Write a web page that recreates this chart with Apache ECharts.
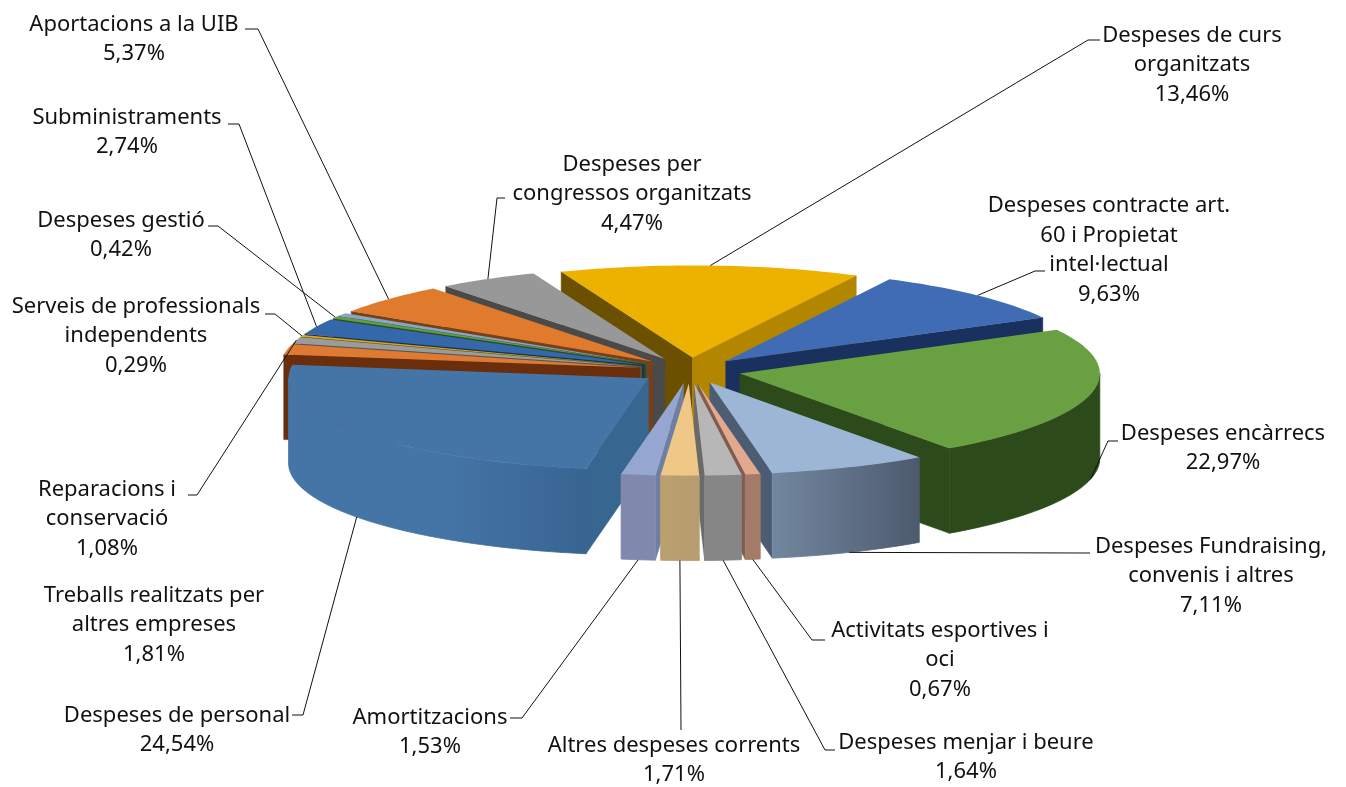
<!DOCTYPE html>
<html><head><meta charset="utf-8">
<style>html,body{margin:0;padding:0;background:#fff}#c{width:1346px;height:787px}</style>
<script src="https://cdn.jsdelivr.net/npm/echarts@6/dist/echarts.min.js"></script>
</head><body><div id="c"></div>
<script>
// ---- data (clockwise from the top slice) ----
const categories = ['Despeses de curs\norganitzats','Despeses contracte art.\n60 i Propietat\nintel·lectual','Despeses encàrrecs','Despeses Fundraising,\nconvenis i altres','Activitats esportives i\noci','Despeses menjar i beure','Altres despeses corrents','Amortitzacions','Despeses de personal','Treballs realitzats per\naltres empreses','Reparacions i\nconservació','Serveis de professionals\nindependents','Subministraments','Despeses gestió','','Aportacions a la UIB','Despeses per\ncongressos organitzats'];
const values = [13.46,9.63,22.97,7.11,0.67,1.64,1.71,1.53,24.54,1.81,1.08,0.29,2.74,0.42,0.56,5.37,4.47];
// ---- styles ----
const topColors  = ['#edb100','#3f6cb5','#69a142','#9db6d6','#e3a98f','#b7b7b7','#efc888','#95a7d0','#4575a7','#de7a32','#9b9b9b','#d9a91c','#3567ab','#5fa03f','#86a7c7','#e07b2e','#989898'];
const startWalls = ['#6b5000','#1a3160','#2d4a1b','#4b5c73','#7f5c4d','#6a6a6a','#8a7650','#6f7ea3','#376690','#6b2e0c','#555555','#6b5500','#173056','#2d4a1b','#3f5a78','#7a3f14','#4a4a4a'];
const endWalls   = ['#b38600','#1a3160','#2d4a1b','#4b5c73','#7f5c4d','#6a6a6a','#8a7650','#6f7ea3','#376690','#6b2e0c','#555555','#6b5500','#173056','#2d4a1b','#3f5a78','#7a3f14','#4a4a4a'];
const outerLeft  = ['#b38600','#1a3160','#2d4a1b','#72879f','#a47a68','#868686','#bba06f','#8089ad','#4575a7','#7a4726','#555555','#6b5500','#173056','#2d4a1b','#3f5a78','#7a3f14','#4a4a4a'];
const outerRight = ['#b38600','#1a3160','#2d4a1b','#4d5a6e','#a47a68','#868686','#b59d70','#8089ad','#386491','#7a4726','#555555','#6b5500','#173056','#2d4a1b','#3f5a78','#7a3f14','#4a4a4a'];
const outerHold  = [0,0,0,0,0,0,0,0,0.5,0,0,0,0,0,0,0,0];
// ---- label layout: [centre x, centre y of text block, leader start x, y, elbow x, y] (null = no leader) ----
const labelLayout = [
 [1192,65, 1100,40,1088,40],[1109,250, 1045,271,1035,271],[1223,448, 1118,441,1108,441],[1211,576, 1090,553,1085,553],
 [940,660, 825,640,812,640],[966,757, 835,750,825,750],[674,760, 681,730,681,730],[430,732, 510,718,522,718],
 [177,730, 292,715,303,715],[154,625, null],[107,519, 188,495,197,495],[136,336, 265,314,275,314],
 [127,132, 228,124,239,124],[121,235, 208,226,218,226],null,[134,39, 245,29,258,29],[632,194, 505,198,497,198]
];
// ---- projection ----
const CX=690, CY=370.5, RX=360, RY=92, DEPTH=85, EXPLODE=0.142, START=-21.4;
const total = values.reduce((a,b)=>a+b,0);
const rad = d => d*Math.PI/180;
const rim = (t,d) => [t[0]+RX*Math.sin(rad(d)), t[1]-RY*Math.cos(rad(d))];
const down = p => [p[0],p[1]+DEPTH];

const spans = []; let acc = START;
values.forEach(v=>{ const s=acc, e=acc+v/total*360; spans.push([s,e]); acc=e; });
const ranks = values.map((v,i)=>i).sort((a,b)=>{
  const m=i=>(spans[i][0]+spans[i][1])/2;
  return Math.cos(rad(m(b)))-Math.cos(rad(m(a)));
});
function arc(t,a,b){ const n=Math.max(2,Math.ceil((b-a)/1.5)); const pts=[]; for(let i=0;i<=n;i++) pts.push(rim(t,a+(b-a)*i/n)); return pts; }

function renderItem(params, api){
  const i=params.dataIndex, [a,b]=spans[i], mid=(a+b)/2;
  const t=[CX+EXPLODE*RX*Math.sin(rad(mid)), CY-EXPLODE*RY*Math.cos(rad(mid))];
  const z=ranks.indexOf(i)*10+10, kids=[];
  const midP=rim(t,mid);
  const wall=(deg,color)=>{
    const c=rim(t,deg), dx=c[0]-t[0], dy=c[1]-t[1], px=midP[0]-t[0], py=midP[1]-t[1];
    const cross=dx*py-dy*px;
    if((dx>0&&cross<0)||(dx<0&&cross>0)){
      kids.push({type:'polygon',z2:z,shape:{points:[t,c,down(c),down(t)]},style:{fill:color,stroke:color,lineWidth:0.5}});
    }
  };
  wall(a,startWalls[i]); wall(b,endWalls[i]);
  const fa=Math.max(a,90), fb=Math.min(b,270);
  if(fb>fa){
    const top=arc(t,fa,fb), bot=top.map(down).reverse();
    const grad={type:'linear',x:0,y:0,x2:1,y2:0,colorStops:[{offset:0,color:outerLeft[i]},{offset:outerHold[i],color:outerLeft[i]},{offset:1,color:outerRight[i]}]};
    kids.push({type:'polygon',z2:z+1,shape:{points:top.concat(bot)},style:{fill:grad,stroke:grad,lineWidth:0.8}});
  }
  kids.push({type:'polygon',z2:z+2,shape:{points:[t].concat(arc(t,a,b))},style:{fill:topColors[i]}});
  const L=labelLayout[i];
  if(L){
    const pct=api.value(0).toFixed(2).replace('.',',')+'%';
    kids.push({type:'text',z2:1000,style:{text:categories[i]+'\n'+pct,x:L[0],y:L[1],align:'center',verticalAlign:'middle',fill:'#111',font:'22px "Noto Sans"',lineHeight:29.5}});
    if(L[2]!==null){
      const end=Math.cos(rad(mid))>0?midP:down(midP);
      kids.push({type:'polyline',z2:999,shape:{points:[[L[2],L[3]],[L[4],L[5]],end]},style:{stroke:'#111',lineWidth:1,fill:null}});
    }
  }
  return {type:'group',children:kids};
}
const chart=echarts.init(document.getElementById('c'),null,{renderer:'canvas'});
chart.setOption({animation:false,series:[{type:'custom',coordinateSystem:'none',renderItem,data:values.map((v,i)=>({name:categories[i],value:[v]}))}]});
</script></body></html>
